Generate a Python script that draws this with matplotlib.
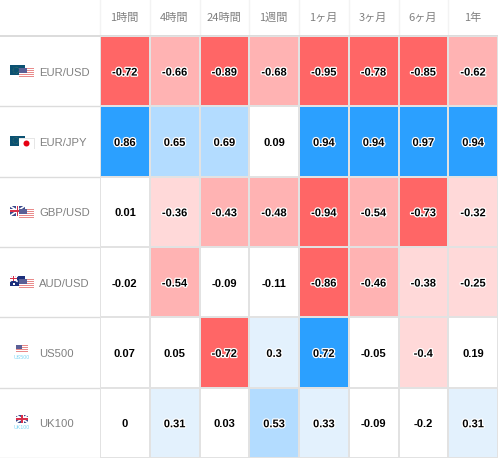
import numpy as np
import matplotlib
matplotlib.use('Agg')
import matplotlib.pyplot as plt
import matplotlib.patheffects as pe
from matplotlib.colors import ListedColormap, BoundaryNorm
from matplotlib.patches import Rectangle, Circle

periods = ['1時間', '4時間', '24時間', '1週間', '1ヶ月', '3ヶ月', '6ヶ月', '1年']
symbols = ['EUR/USD', 'EUR/JPY', 'GBP/USD', 'AUD/USD', 'US500', 'UK100']

eurusd = [-0.72, -0.66, -0.89, -0.68, -0.95, -0.78, -0.85, -0.62]
eurjpy = [0.86, 0.65, 0.69, 0.09, 0.94, 0.94, 0.97, 0.94]
gbpusd = [0.01, -0.36, -0.43, -0.48, -0.94, -0.54, -0.73, -0.32]
audusd = [-0.02, -0.54, -0.09, -0.11, -0.86, -0.46, -0.38, -0.25]
us500 = [0.07, 0.05, -0.72, 0.3, 0.72, -0.05, -0.4, 0.19]
uk100 = [0, 0.31, 0.03, 0.53, 0.33, -0.09, -0.2, 0.31]

rows = np.array([eurusd, eurjpy, gbpusd, audusd, us500, uk100])

bins = [-1, -0.7, -0.401, -0.2, 0.2, 0.4, 0.7, 1]
colors = ['#ff6666', '#ffb3b3', '#ffd9d9', '#ffffff', '#e3f1fd', '#b3dcff', '#2ba0ff']
cmap = ListedColormap(colors)
norm = BoundaryNorm(bins, cmap.N)

W, H = 498, 458
HEAD = 36
LEFT = 100
GREY = '#808080'
LATIN = 'Liberation Sans'
JP = ['Noto Sans CJK JP', 'DejaVu Sans']

fig = plt.figure(figsize=(W / 100, H / 100), dpi=100)

# heatmap, one unit per cell
ax = fig.add_axes([LEFT / W, 0, 1 - LEFT / W, (H - HEAD) / H])
ax.pcolormesh(np.arange(len(periods) + 1), np.arange(len(symbols) + 1), rows,
              cmap=cmap, norm=norm, edgecolors='#e2e2e2', linewidth=1.4)
ax.set_xlim(0, len(periods))
ax.set_ylim(len(symbols), 0)
ax.axis('off')

for r in range(len(symbols)):
    for c in range(len(periods)):
        v = rows[r, c]
        t = ax.text(c + 0.5, r + 0.52, '{:g}'.format(v), ha='center', va='center',
                    fontsize=8, fontweight='bold', family=LATIN, color='black')
        if abs(v) > 0.2:
            t.set_path_effects([pe.withStroke(linewidth=1.8, foreground='white')])

# everything outside the cells, in pixels
bg = fig.add_axes([0, 0, 1, 1], zorder=-1)
bg.set_xlim(0, W)
bg.set_ylim(H, 0)
bg.axis('off')

cell_w = (W - LEFT) / len(periods)
cell_h = (H - HEAD) / len(symbols)

for i, p in enumerate(periods):
    bg.text(LEFT + (i + 0.5) * cell_w - 0.5, 18, p, ha='center', va='center',
            fontsize=8, family=JP, color=GREY)
    bg.plot([LEFT + i * cell_w] * 2, [0, HEAD], color='#f3f3f3', lw=1)

for i in range(len(symbols)):
    y = HEAD + i * cell_h
    bg.plot([0, LEFT], [y + cell_h] * 2, color='#dcdcdc', lw=1)
bg.plot([0, W], [HEAD, HEAD], color='#dcdcdc', lw=1.4)


def rect(x, y, w, h, c, z=2):
    bg.add_patch(Rectangle((x, y), w, h, color=c, lw=0, zorder=z))


def eu(x, y):
    rect(x, y, 15, 10, '#0b5172')
    bg.add_patch(Circle((x + 6, y + 5), 3, fill=False, ec='#6f8f55', lw=0.4, ls=':', zorder=3))


def us(x, y, w=15, h=10, z=4):
    rect(x, y, w, h, '#ffffff', z)
    for k in np.arange(0, h, 2):
        rect(x, y + k, w, 1, '#e98b8b', z)
    rect(x, y, w * 0.5, h / 2, '#5a5f95', z)


def jp(x, y):
    rect(x - 0.5, y - 0.5, 16, 11, '#e6e6e6', 4)
    rect(x, y, 15, 10, '#ffffff', 4)
    bg.add_patch(Circle((x + 7.5, y + 5), 3, color='#e60012', lw=0, zorder=5))


def uk(x, y, w=15, h=10, z=2):
    rect(x, y, w, h, '#3a4a8c', z)
    bg.plot([x, x + w], [y, y + h], color='white', lw=1.2, zorder=z + 0.1)
    bg.plot([x, x + w], [y + h, y], color='white', lw=1.2, zorder=z + 0.1)
    rect(x + w / 2 - 1.5, y, 3, h, '#ffffff', z + 0.2)
    rect(x, y + h / 2 - 1.5, w, 3, '#ffffff', z + 0.2)
    rect(x + w / 2 - 0.7, y, 1.4, h, '#d8304a', z + 0.3)
    rect(x, y + h / 2 - 0.7, w, 1.4, '#d8304a', z + 0.3)


def au(x, y):
    rect(x, y, 15, 10, '#1c2f7c')
    uk(x, y, 7, 5, 2.2)
    rect(x + 3, y + 7, 1.5, 1.5, '#ffffff', 3)


def index_tag(x, y, s):
    bg.text(x, y, s, ha='center', va='center', fontsize=3.8, family=LATIN, color='#7fd6f5')


for i, s in enumerate(symbols):
    cy = HEAD + (i + 0.5) * cell_h
    bg.text(39, cy + 1.4, s, ha='left', va='center', fontsize=8.1, family=LATIN, color=GREY)
    if s == 'EUR/USD':
        eu(10, cy - 6)
        us(19, cy - 3)
    elif s == 'EUR/JPY':
        eu(10, cy - 6)
        jp(19, cy - 3)
    elif s == 'GBP/USD':
        uk(10, cy - 6)
        us(19, cy - 3)
    elif s == 'AUD/USD':
        au(10, cy - 6)
        us(19, cy - 3)
    elif s == 'US500':
        us(16, cy - 8, 12, 8)
        index_tag(22, cy + 5, s)
    else:
        uk(16, cy - 8, 12, 8)
        index_tag(22, cy + 5, s)

fig.savefig('out.png', dpi=100)
